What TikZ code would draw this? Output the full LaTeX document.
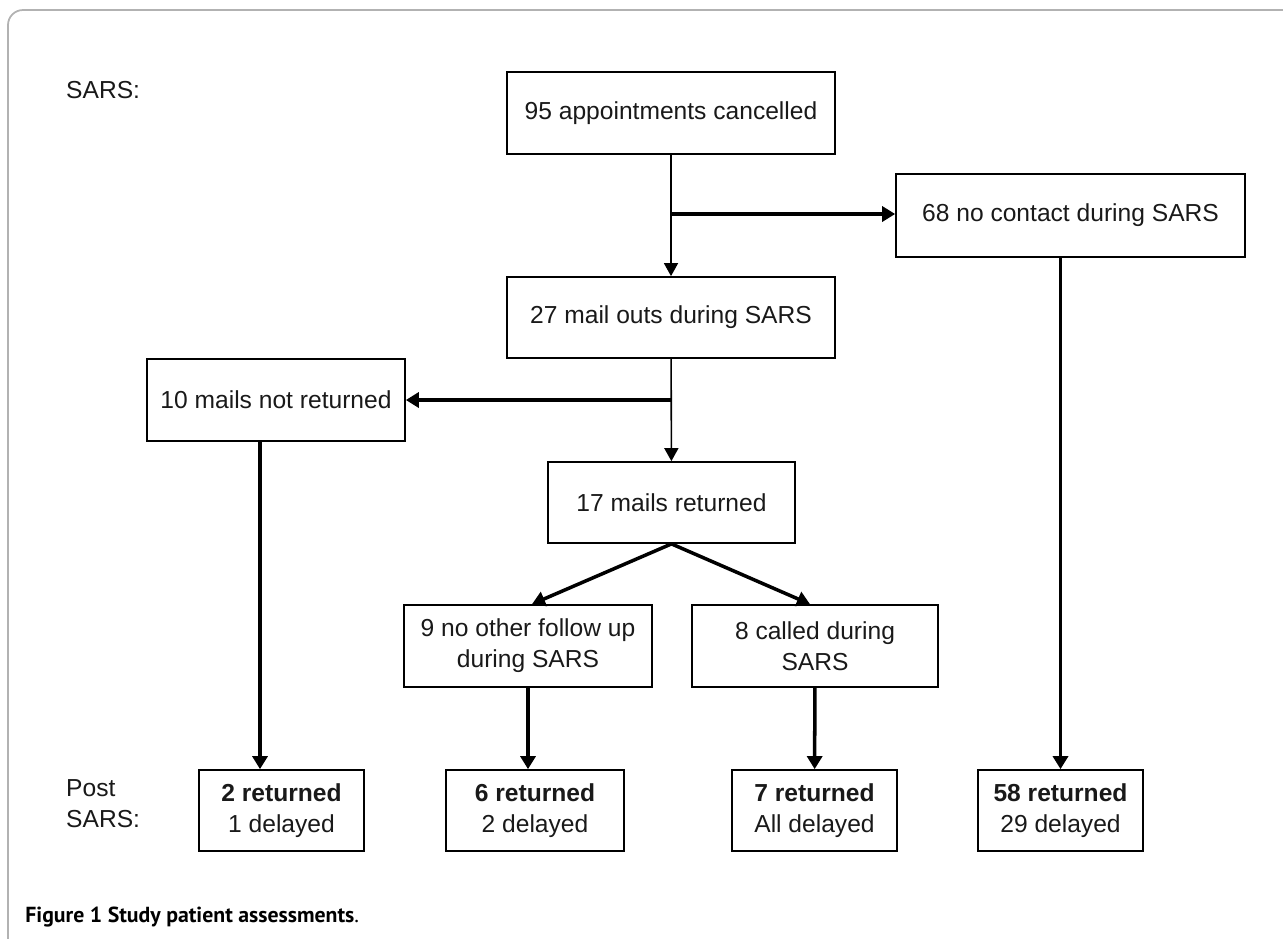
\documentclass[tikz,border=0pt]{standalone}
\usepackage{fontspec}
\setmainfont{Liberation Sans}
\newfontfamily\capfont{PT Sans}
\usetikzlibrary{arrows.meta}

\begin{document}
\begin{tikzpicture}[x=0.02cm, y=-0.02cm,
  box/.style={draw, line width=1pt, align=center, inner sep=2pt, text=black!90,
    font=\fontsize{14}{17.6}\selectfont},
  lbl/.style={anchor=west, align=left, text=black!90, font=\fontsize{14}{17.6}\selectfont},
  lightarrow/.style={line width=0.9pt, -{Triangle[length=0.26cm, width=0.28cm]}},
  heavyarrow/.style={line width=2pt, -{Triangle[length=0.26cm, width=0.3cm]}}]
\useasboundingbox (0,0) rectangle (1283,938);
\draw[gray!60, line width=1pt, rounded corners=0.3cm] (8,950) -- (8,10) -- (1300,10);

% labels on the left
\node[lbl] (sarslbl) at (60,90) {SARS:};
\node[lbl] (postlbl) at (60,803.5) {Post\\SARS:};

% boxes
\node[box, minimum width=6.56cm, minimum height=1.64cm] (appt) at (671,113) {95 appointments cancelled};
\node[box, minimum width=6.98cm, minimum height=1.66cm] (nocontact) at (1070.5,215.5) {68 no contact during SARS};
\node[box, minimum width=6.56cm, minimum height=1.62cm] (mailout) at (671,317.5) {27 mail outs during SARS};
\node[box, minimum width=5.16cm, minimum height=1.64cm] (notret) at (276,400) {10 mails not returned};
\node[box, minimum width=4.94cm, minimum height=1.62cm] (mailret) at (671.5,502.5) {17 mails returned};
\node[box, minimum width=4.96cm, minimum height=1.64cm] (nofollow) at (528,646) {9 no other follow up\\during SARS};
\node[box, minimum width=4.92cm, minimum height=1.64cm] (called) at (815,646) {8 called during\\SARS};
\node[box, minimum width=3.3cm, minimum height=1.62cm] (ret2) at (281.5,810.5) {\textbf{2 returned}\\1 delayed};
\node[box, minimum width=3.56cm, minimum height=1.62cm] (ret6) at (535,810.5) {\textbf{6 returned}\\2 delayed};
\node[box, minimum width=3.3cm, minimum height=1.62cm] (ret7) at (814.5,810.5) {\textbf{7 returned}\\All delayed};
\node[box, minimum width=3.3cm, minimum height=1.62cm] (ret58) at (1060.5,810.5) {\textbf{58 returned}\\29 delayed};

% split points
\coordinate (split1) at (671,214);
\coordinate (split2) at (671,400);
\coordinate (dcol) at (260,0);

% connectors
\draw[lightarrow] (appt) -- (mailout);
\draw[heavyarrow] (split1) -- (split1 -| nocontact.west);
\draw[lightarrow] (mailout) -- (mailret);
\draw[heavyarrow] (split2) -- (notret.east);
\draw[heavyarrow] (mailret.south) -- ([xshift=0.08cm]nofollow.north);
\draw[heavyarrow] (mailret.south) -- ([xshift=-0.1cm]called.north);
\draw[heavyarrow] (notret.south -| dcol) -- (ret2.north -| dcol);
\draw[heavyarrow] (nofollow.south) -- (ret6.north -| nofollow.south);
\draw[heavyarrow] (called) -- (ret7);
\draw[heavyarrow] (nocontact.south -| ret58.north) -- (ret58.north);

% caption
\node[anchor=west, inner sep=0pt, font=\capfont\fontsize{12.4}{14}\selectfont] (caption) at (25,917)
  {\textbf{Figure 1 Study patient assessments}.};
\end{tikzpicture}
\end{document}
